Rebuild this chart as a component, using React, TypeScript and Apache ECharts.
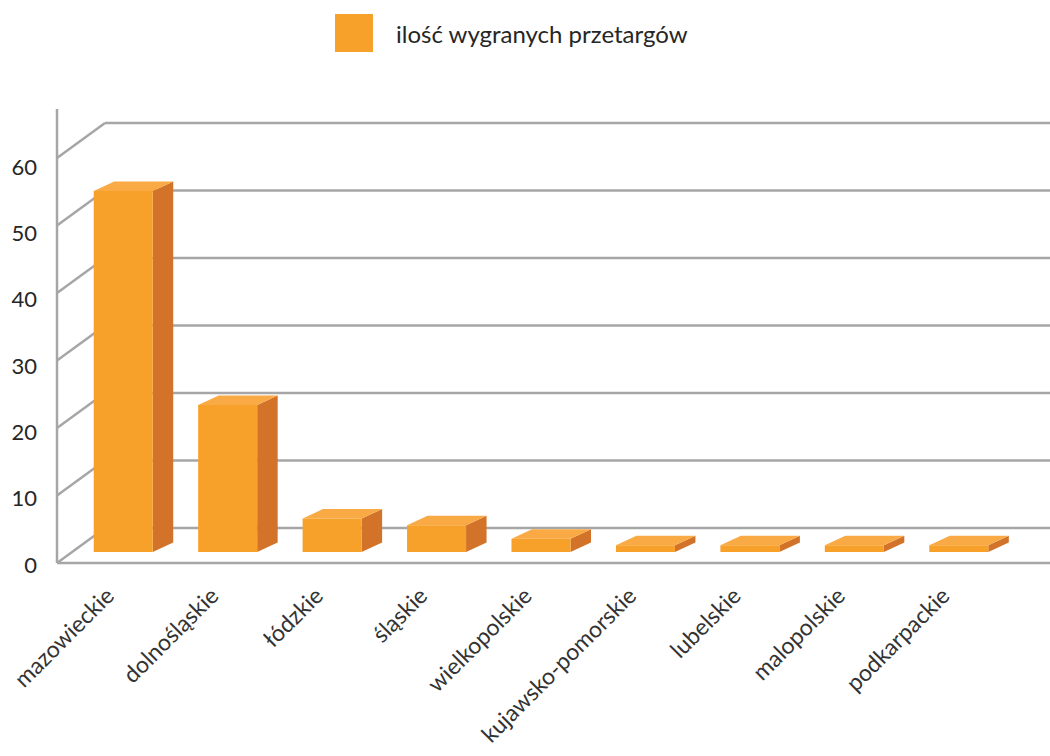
import React, { useEffect, useRef } from "react";
import * as echarts from "echarts";

const categories = [
  "mazowieckie",
  "dolnośląskie",
  "łódzkie",
  "śląskie",
  "wielkopolskie",
  "kujawsko-pomorskie",
  "lubelskie",
  "malopolskie",
  "podkarpackie",
];
const values = [54, 22, 5, 4, 2, 1, 1, 1, 1];
const yTicks = [0, 10, 20, 30, 40, 50, 60];
const seriesName = "ilość wygranych przetargów";

const FONT = "Lato, 'Noto Sans', sans-serif";
const GRID_COLOR = "#a6a6a6";
const FRONT = "#f8a12a";
const SIDE = "#d27329";
const TOP = "#f9aa45";
const WALL_DX = 48;
const WALL_DY = -35;
const BAR_DX = 20.5;
const BAR_DY = -9.5;

export default function App() {
  const ref = useRef<HTMLDivElement>(null);
  useEffect(() => {
    document.body.style.margin = "0";
    const chart = echarts.init(ref.current!, null, { renderer: "svg" });
    const option: any = {
      animation: false,
      legend: {
        data: [{ name: seriesName, icon: "rect" }],
        left: 335,
        top: 14,
        padding: 0,
        itemWidth: 38,
        itemHeight: 38,
        selectedMode: false,
        textStyle: {
          fontSize: 24,
          fontFamily: FONT,
          color: "#262626",
          padding: [0, 0, 0, 18],
        },
      },
      grid: [
        { left: 71, top: 151, width: 940, height: 401 },
        { left: 57, top: 158, width: 940, height: 405 },
        { left: 57, top: 166, width: 940, height: 398 },
      ],
      xAxis: [
        { gridIndex: 0, type: "category", data: categories, show: false },
        {
          gridIndex: 1,
          type: "category",
          data: categories,
          axisLine: { show: false },
          axisTick: { show: false },
          splitLine: { show: false },
          axisLabel: {
            rotate: 45,
            margin: 28,
            fontSize: 23,
            fontFamily: FONT,
            color: "#333333",
            interval: 0,
          },
        },
        { gridIndex: 2, type: "category", data: categories, show: false },
      ],
      yAxis: [
        { gridIndex: 0, type: "value", min: 0, max: 60, interval: 10, show: false },
        { gridIndex: 1, type: "value", min: 0, max: 60, interval: 10, show: false },
        {
          gridIndex: 2,
          type: "value",
          min: 0,
          max: 60,
          interval: 10,
          axisLine: { show: false },
          axisTick: { show: false },
          splitLine: { show: false },
          axisLabel: {
            margin: 20,
            fontSize: 22,
            fontFamily: FONT,
            color: "#262626",
          },
        },
      ],
      series: [
        {
          name: "walls",
          type: "custom",
          xAxisIndex: 1,
          yAxisIndex: 1,
          z: 1,
          silent: true,
          data: yTicks.map((v) => [0, v]),
          renderItem: (params: any, api: any) => {
            const v = api.value(1);
            const y = api.coord([0, v])[1];
            const xl = params.coordSys.x;
            const lineStyle = { stroke: GRID_COLOR, lineWidth: 2.5 };
            const children: any[] = [
              {
                type: "line",
                shape: { x1: xl, y1: y, x2: xl + WALL_DX, y2: y + WALL_DY },
                style: lineStyle,
              },
              {
                type: "line",
                shape: { x1: xl + WALL_DX, y1: y + WALL_DY, x2: 1050, y2: y + WALL_DY },
                style: lineStyle,
              },
            ];
            if (v === 0) {
              const yTop = api.coord([0, 60])[1] - 49;
              children.push({
                type: "line",
                shape: { x1: xl, y1: y, x2: 1050, y2: y },
                style: lineStyle,
              });
              children.push({
                type: "line",
                shape: { x1: xl, y1: yTop, x2: xl, y2: y },
                style: lineStyle,
              });
            }
            return { type: "group", children };
          },
        },
        {
          name: seriesName,
          type: "custom",
          xAxisIndex: 0,
          yAxisIndex: 0,
          z: 5,
          itemStyle: { color: FRONT },
          data: values.map((v, i) => [i, v]),
          encode: { x: 0, y: 1 },
          renderItem: (params: any, api: any) => {
            const i = api.value(0);
            const v = api.value(1);
            const top = api.coord([i, v]);
            const base = api.coord([i, 0]);
            const band = api.size([1, 0])[0];
            const w = band * 0.565;
            const x0 = top[0] - w / 2;
            const x1 = top[0] + w / 2;
            const yT = top[1];
            const yB = base[1];
            return {
              type: "group",
              children: [
                {
                  type: "polygon",
                  shape: {
                    points: [
                      [x1, yT],
                      [x1 + BAR_DX, yT + BAR_DY],
                      [x1 + BAR_DX, yB + BAR_DY],
                      [x1, yB],
                    ],
                  },
                  style: { fill: SIDE },
                },
                {
                  type: "polygon",
                  shape: {
                    points: [
                      [x0, yT],
                      [x0 + BAR_DX, yT + BAR_DY],
                      [x1 + BAR_DX, yT + BAR_DY],
                      [x1, yT],
                    ],
                  },
                  style: { fill: TOP },
                },
                {
                  type: "rect",
                  shape: { x: x0, y: yT, width: w, height: yB - yT },
                  style: { fill: FRONT },
                },
              ],
            };
          },
        },
      ],
    };
    chart.setOption(option);
    return () => chart.dispose();
  }, []);
  return <div ref={ref} style={{ width: 1050, height: 756 }} />;
}
